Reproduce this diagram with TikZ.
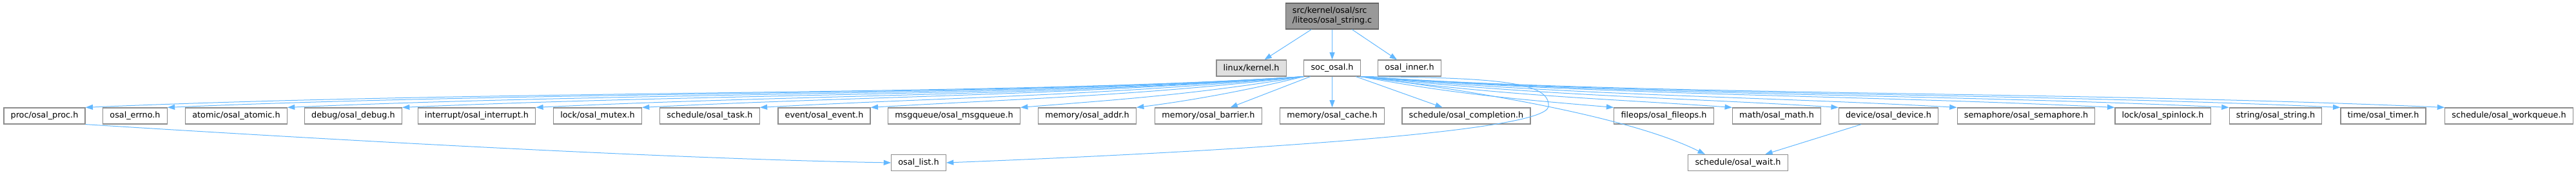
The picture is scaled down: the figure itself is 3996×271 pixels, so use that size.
\documentclass[tikz,border=0pt]{standalone}
\usepackage{fontspec}
\setmainfont{DejaVu Sans}
\usetikzlibrary{arrows.meta}
\definecolor{dgedge}{HTML}{63B8FF}
\definecolor{dgline}{HTML}{8C8C8C}
\definecolor{dgroot}{HTML}{999999}
\definecolor{dgrootline}{HTML}{666666}
\definecolor{dgextern}{HTML}{E0E0E0}

\begin{document}
\begin{tikzpicture}[x=0.75pt, y=-0.75pt,
  hfile/.style={draw=dgline, fill=white, line width=0.9pt, minimum height=18.75pt,
    inner xsep=8pt, inner ysep=0pt, font=\fontsize{9.6}{11.25}\selectfont},
  incl/.style={draw=dgedge, line width=0.75pt, -{Triangle[length=8.5pt, width=6pt]}}]
\useasboundingbox (0,0) rectangle (3996,271);
% top level
\node[hfile, fill=dgroot, draw=dgrootline, align=left, minimum height=30pt]
  (root) at (2066.5,25) {src/kernel/osal/src\\/liteos/osal\_string.c};
\node[hfile, fill=dgextern] (kernel) at (1941,105.5) {linux/kernel.h};
\node[hfile] (soc) at (2066.5,105.5) {soc\_osal.h};
\node[hfile] (inner) at (2186.5,105.5) {osal\_inner.h};
% headers pulled in by soc_osal.h
\node[hfile] (proc) at (69,179.5) {proc/osal\_proc.h};
\node[hfile] (errno) at (209.5,179.5) {osal\_errno.h};
\node[hfile] (atomic) at (366.5,179.5) {atomic/osal\_atomic.h};
\node[hfile] (debug) at (548,179.5) {debug/osal\_debug.h};
\node[hfile] (interrupt) at (739.5,179.5) {interrupt/osal\_interrupt.h};
\node[hfile] (mutex) at (927,179.5) {lock/osal\_mutex.h};
\node[hfile] (task) at (1101,179.5) {schedule/osal\_task.h};
\node[hfile] (event) at (1278.5,179.5) {event/osal\_event.h};
\node[hfile] (msgqueue) at (1480,179.5) {msgqueue/osal\_msgqueue.h};
\node[hfile] (addr) at (1686.5,179.5) {memory/osal\_addr.h};
\node[hfile] (barrier) at (1874.5,179.5) {memory/osal\_barrier.h};
\node[hfile] (cache) at (2066.5,179.5) {memory/osal\_cache.h};
\node[hfile] (completion) at (2274.5,179.5) {schedule/osal\_completion.h};
\node[hfile] (fileops) at (2581,179.5) {fileops/osal\_fileops.h};
\node[hfile] (math) at (2756,179.5) {math/osal\_math.h};
\node[hfile] (device) at (2929.5,179.5) {device/osal\_device.h};
\node[hfile] (semaphore) at (3143,179.5) {semaphore/osal\_semaphore.h};
\node[hfile] (spinlock) at (3355,179.5) {lock/osal\_spinlock.h};
\node[hfile] (string) at (3530,179.5) {string/osal\_string.h};
\node[hfile] (timer) at (3697,179.5) {time/osal\_timer.h};
\node[hfile] (workqueue) at (3892,179.5) {schedule/osal\_workqueue.h};
% bottom level
\node[hfile] (list) at (1425,252) {osal\_list.h};
\node[hfile] (wait) at (2696,252) {schedule/osal\_wait.h};
\coordinate (listbend) at (2402,165);

% includes of the source file
\draw[incl] (root) -- (kernel);
\draw[incl] (root) -- (soc);
\draw[incl] (root) -- (inner);
% soc_osal.h, to the left
\draw[incl] (soc.south west) .. controls +(-450,30) and +(650,-28) .. (proc.north east);
\draw[incl] (soc.south west) .. controls +(-450,30) and +(600,-26) .. (errno.north east);
\draw[incl] (soc.south west) .. controls +(-450,30) and +(550,-24) .. (atomic.north east);
\draw[incl] (soc.south west) .. controls +(-420,30) and +(500,-22) .. (debug.north east);
\draw[incl] (soc.south west) .. controls +(-400,30) and +(420,-20) .. (interrupt.north east);
\draw[incl] (soc.south west) .. controls +(-380,30) and +(360,-18) .. (mutex.north east);
\draw[incl] (soc.south west) .. controls +(-320,30) and +(300,-16) .. (task.north east);
\draw[incl] (soc.south west) .. controls +(-260,30) and +(240,-14) .. (event.north east);
\draw[incl] (soc.south west) .. controls +(-170,28) and +(150,-12) .. (msgqueue.north east);
\draw[incl] (soc.south west) .. controls +(-90,22) and +(80,-10) .. (addr.north east);
\draw[incl] (soc) -- (barrier);
\draw[incl] (soc) -- (cache);
\draw[incl] (soc) -- (completion);
% soc_osal.h, to the right
\draw[incl] (soc.south east) .. controls +(150,28) and +(-140,-12) .. (fileops.north west);
\draw[incl] (soc.south east) .. controls +(220,30) and +(-200,-14) .. (math.north west);
\draw[incl] (soc.south east) .. controls +(280,30) and +(-260,-16) .. (device.north west);
\draw[incl] (soc.south east) .. controls +(340,30) and +(-330,-18) .. (semaphore.north west);
\draw[incl] (soc.south east) .. controls +(400,30) and +(-420,-20) .. (spinlock.north west);
\draw[incl] (soc.south east) .. controls +(420,30) and +(-480,-22) .. (string.north west);
\draw[incl] (soc.south east) .. controls +(440,30) and +(-540,-24) .. (timer.north west);
\draw[incl] (soc.south east) .. controls +(450,30) and +(-600,-26) .. (workqueue.north west);
\draw[incl] (soc.south east) .. controls +(200,25) and +(-110,-55) .. ([xshift=20pt]wait.north west);
\draw[incl] (soc.south east) .. controls (2330,120) and (2405,128) .. (listbend)
  .. controls (2398,205) and (1900,235) .. (list.east);
% second level
\draw[incl] (proc.south east) .. controls +(350,22) and +(-350,-6) .. (list.west);
\draw[incl] (device) -- (wait);
\end{tikzpicture}
\end{document}
